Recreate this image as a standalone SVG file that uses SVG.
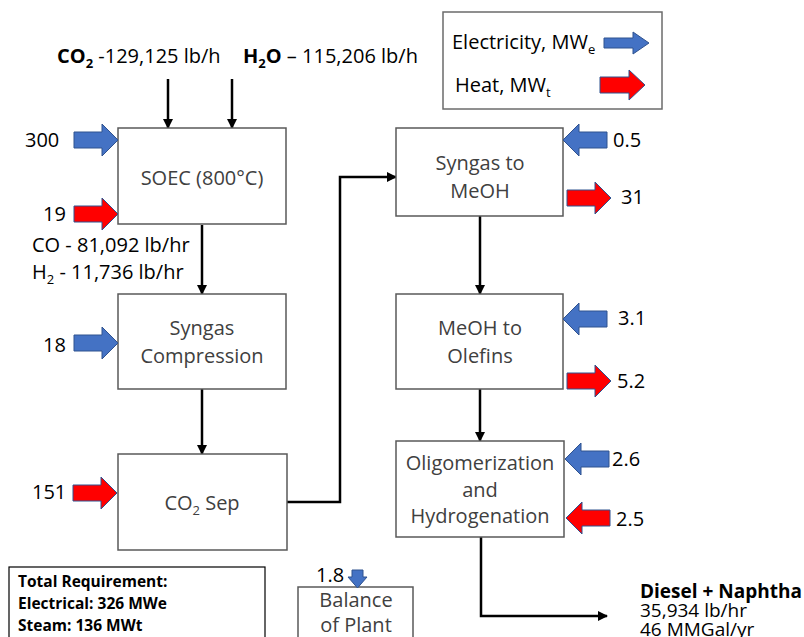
<svg xmlns="http://www.w3.org/2000/svg" xmlns:xlink="http://www.w3.org/1999/xlink" width="804" height="637" viewBox="0 0 804 637">
  <defs>
    <style>
      text { font-family: "Open Sans", "Liberation Sans", sans-serif; font-size: 20px; fill: #000; }
      .box { fill: #fff; stroke: #595959; stroke-width: 1.5; }
      .lbl { fill: #404040; text-anchor: middle; }
      .b { font-weight: bold; }
      .sub { font-size: 13px; }
      .elec { fill: #4472C4; stroke: #2F528F; stroke-width: 1; }
      .heat { fill: #FF0000; stroke: #2F528F; stroke-width: 1; }
      .conn { fill: none; stroke: #000; stroke-width: 2.5; }
      .tot { font-size: 15.5px; font-weight: bold; }
      .prod { font-size: 19px; }
    </style>
    <path id="blk" d="M0,0 L-16,-16 V-8 H-44 V8 H-16 V16 Z"/>
    <marker id="ah" markerWidth="10" markerHeight="10" refX="9" refY="5" orient="auto" markerUnits="userSpaceOnUse">
      <path d="M0,0 L10,5 L0,10 Z" fill="#000"/>
    </marker>
  </defs>
  <rect width="804" height="637" fill="#fff"/>

  <!-- Header feeds -->
  <g id="feeds">
    <text x="57" y="63"><tspan class="b">CO</tspan><tspan class="b sub" dy="5">2</tspan><tspan dy="-5"> -129,125 lb/h</tspan></text>
    <text x="243" y="63"><tspan class="b">H</tspan><tspan class="b sub" dy="5">2</tspan><tspan class="b" dy="-5">O</tspan><tspan> – 115,206 lb/h</tspan></text>
  </g>

  <!-- Legend -->
  <g id="legend">
    <rect x="443" y="12" width="219" height="97" fill="#fff" stroke="#6b6b6b" stroke-width="1.5"/>
    <text x="452" y="49">Electricity, MW<tspan class="sub" dy="5">e</tspan></text>
    <path class="elec" d="M604,38 H633 V32 L649,43 L633,54 V48 H604 Z"/>
    <text x="455" y="92">Heat, MW<tspan class="sub" dy="5">t</tspan></text>
    <path class="heat" d="M600,77 H629 V70 L645,85 L629,100 V93 H600 Z"/>
  </g>

  <!-- Connectors -->
  <g id="connectors">
    <line class="conn" x1="168" y1="79" x2="168" y2="128" marker-end="url(#ah)"/>
    <line class="conn" x1="232" y1="79" x2="232" y2="128" marker-end="url(#ah)"/>
    <line class="conn" x1="202" y1="225" x2="202" y2="294" marker-end="url(#ah)"/>
    <line class="conn" x1="202" y1="389" x2="202" y2="454" marker-end="url(#ah)"/>
    <polyline class="conn" points="287,502 340,502 340,177 396,177" marker-end="url(#ah)"/>
    <line class="conn" x1="480" y1="216" x2="480" y2="294" marker-end="url(#ah)"/>
    <line class="conn" x1="480" y1="389" x2="480" y2="441" marker-end="url(#ah)"/>
    <polyline class="conn" points="481,537 481,616 607,616" stroke-width="3" marker-end="url(#ah)"/>
  </g>

  <!-- SOEC -->
  <g id="soec">
    <rect class="box" x="118" y="128" width="168" height="96"/>
    <text class="lbl" x="202" y="185">SOEC (800°C)</text>
    <use xlink:href="#blk" class="elec" transform="translate(118,140)"/>
    <text x="25" y="147">300</text>
    <use xlink:href="#blk" class="heat" transform="translate(118,214)"/>
    <text x="43" y="221">19</text>
    <text x="32" y="252">CO - 81,092 lb/hr</text>
    <text x="32" y="279">H<tspan class="sub" dy="5">2</tspan><tspan dy="-5"> - 11,736 lb/hr</tspan></text>
  </g>

  <!-- Syngas Compression -->
  <g id="syngas-compression">
    <rect class="box" x="118" y="294" width="168" height="95"/>
    <text class="lbl" x="202" y="335">Syngas</text>
    <text class="lbl" x="202" y="363">Compression</text>
    <use xlink:href="#blk" class="elec" transform="translate(118,343)"/>
    <text x="43" y="352">18</text>
  </g>

  <!-- CO2 Sep -->
  <g id="co2-sep">
    <rect class="box" x="118" y="454" width="169" height="96"/>
    <text class="lbl" x="202" y="510">CO<tspan class="sub" dy="5">2</tspan><tspan dy="-5"> Sep</tspan></text>
    <use xlink:href="#blk" class="heat" transform="translate(117,493)"/>
    <text x="32" y="499">151</text>
  </g>

  <!-- Syngas to MeOH -->
  <g id="syngas-to-meoh">
    <rect class="box" x="396" y="128" width="167" height="88"/>
    <text class="lbl" x="480" y="170">Syngas to</text>
    <text class="lbl" x="480" y="198">MeOH</text>
    <use xlink:href="#blk" class="elec" transform="translate(563,140) scale(-1,1)"/>
    <text x="613" y="147">0.5</text>
    <use xlink:href="#blk" class="heat" transform="translate(611,198)"/>
    <text x="621" y="204">31</text>
  </g>

  <!-- MeOH to Olefins -->
  <g id="meoh-to-olefins">
    <rect class="box" x="396" y="294" width="167" height="95"/>
    <text class="lbl" x="480" y="335">MeOH to</text>
    <text class="lbl" x="480" y="363">Olefins</text>
    <use xlink:href="#blk" class="elec" transform="translate(563,319) scale(-1,1)"/>
    <text x="618" y="325">3.1</text>
    <use xlink:href="#blk" class="heat" transform="translate(611,381)"/>
    <text x="617" y="388">5.2</text>
  </g>

  <!-- Oligomerization and Hydrogenation -->
  <g id="oligomerization">
    <rect class="box" x="396" y="441" width="168" height="96"/>
    <text class="lbl" x="480" y="470">Oligomerization</text>
    <text class="lbl" x="480" y="497">and</text>
    <text class="lbl" x="480" y="523">Hydrogenation</text>
    <use xlink:href="#blk" class="elec" transform="translate(565,459) scale(-1,1)"/>
    <text x="612" y="466">2.6</text>
    <use xlink:href="#blk" class="heat" transform="translate(566,518) scale(-1,1)"/>
    <text x="616" y="526">2.5</text>
  </g>

  <!-- Product -->
  <g id="product">
    <text class="prod b" x="640" y="598">Diesel + Naphtha</text>
    <text class="prod" x="640" y="617">35,934 lb/hr</text>
    <text class="prod" x="640" y="636">46 MMGal/yr</text>
  </g>

  <!-- Balance of Plant -->
  <g id="balance-of-plant">
    <rect class="box" x="298" y="587" width="115" height="60"/>
    <text class="lbl" x="356" y="607">Balance</text>
    <text class="lbl" x="356" y="632">of Plant</text>
    <path class="elec" d="M352,570 H363 V577 H367 L357.5,588 L348,577 H352 Z"/>
    <text x="316" y="582">1.8</text>
  </g>

  <!-- Total Requirement -->
  <g id="total-requirement">
    <rect x="9" y="567" width="256" height="80" fill="#fff" stroke="#000" stroke-width="1.2"/>
    <text class="tot" x="18" y="587">Total Requirement:</text>
    <text class="tot" x="18" y="609">Electrical: 326 MWe</text>
    <text class="tot" x="18" y="631">Steam: 136 MWt</text>
  </g>
</svg>
